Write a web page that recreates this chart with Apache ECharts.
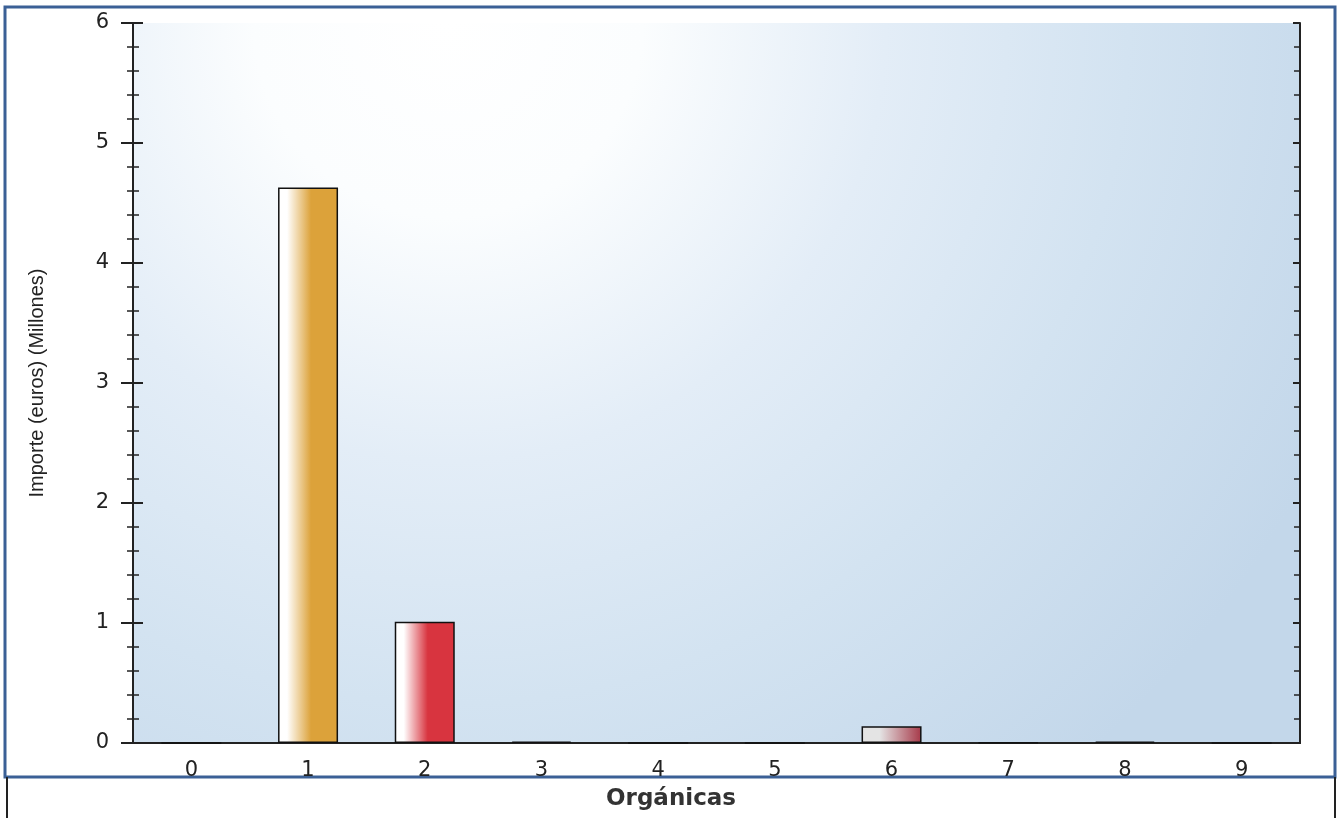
<!DOCTYPE html>
<html>
<head>
<meta charset="utf-8">
<script src="https://cdn.jsdelivr.net/npm/echarts@6/dist/echarts.min.js"></script>
<style>html,body{margin:0;padding:0;background:#fff;}#c{width:1342px;height:818px;}</style>
</head>
<body>
<div id="c"></div>
<script>
const categories = ['0','1','2','3','4','5','6','7','8','9'];
const values = [0, 4.63, 1.01, 0.012, 0, 0, 0.14, 0.004, 0.012, 0];
const barColors = ['#c8a040','#dca23a','#d8343f','#5a4a50','#888888','#888888','#a63848','#555555','#4a4a4a','#888888'];
const barStartColors = ['#ffffff','#ffffff','#ffffff','#dddddd','#ffffff','#ffffff','#e4e4e4','#dddddd','#dddddd','#ffffff'];
const yTicks = [0,1,2,3,4,5,6];
const yName = 'Importe (euros) (Millones)';
const xName = 'Orgánicas';

const chart = echarts.init(document.getElementById('c'));
const G = {left:133, right:42, top:23, bottom:75};
const lab = {fontFamily:'DejaVu Sans', fontSize:21, color:'#222'};

function grad(s, c, i){
  const stops = i === 6
    ? [{offset:0,color:s},{offset:0.3,color:s},{offset:1,color:c}]
    : [{offset:0,color:s},{offset:0.15,color:s},{offset:0.55,color:c},{offset:1,color:c}];
  return new echarts.graphic.LinearGradient(0,0,1,0,stops);
}

chart.setOption({
  animation:false,
  backgroundColor:'#ffffff',
  graphic:[
    {type:'rect', shape:{x:5,y:7,width:1330,height:770}, style:{fill:'none',stroke:'#3b6096',lineWidth:3}, z:-1},
    {type:'line', shape:{x1:7,y1:777,x2:7,y2:818}, style:{stroke:'#222',lineWidth:2}},
    {type:'line', shape:{x1:1335,y1:777,x2:1335,y2:818}, style:{stroke:'#222',lineWidth:2}},
    {type:'text', left:'center', top:788, style:{text:xName, font:'bold 23px "DejaVu Sans"', fill:'#333'}}
  ],
  grid:[
    Object.assign({show:true, borderWidth:0, backgroundColor:{type:'radial',x:0.27,y:0,r:1.35,colorStops:[
      {offset:0,color:'#ffffff'},{offset:0.2,color:'#fbfdfe'},{offset:0.45,color:'#e3edf7'},{offset:0.7,color:'#d3e3f1'},{offset:1,color:'#c3d7ea'}]}}, G),
    Object.assign({}, G)
  ],
  xAxis:[
    {type:'category', gridIndex:0, data:categories, position:'bottom',
     axisLine:{lineStyle:{color:'#222',width:2}},
     axisTick:{alignWithLabel:true, length:8, lineStyle:{color:'#222',width:2}},
     axisLabel:Object.assign({margin:17}, lab)},
    {type:'category', gridIndex:1, data:categories, position:'top',
     axisLine:{lineStyle:{color:'#222',width:2}},
     axisTick:{alignWithLabel:true, inside:true, length:8, lineStyle:{color:'#222',width:2}},
     axisLabel:{show:false}}
  ],
  yAxis:[
    {type:'value', gridIndex:0, min:0, max:6, interval:1, position:'left',
     name:yName, nameLocation:'middle', nameGap:86, nameRotate:90,
     nameTextStyle:{fontFamily:'Liberation Sans', fontSize:20, color:'#222'},
     axisLine:{show:true, lineStyle:{color:'#222',width:2}},
     axisTick:{show:true, length:12, lineStyle:{color:'#222',width:2}},
     minorTick:{show:true, splitNumber:5, length:6, lineStyle:{color:'#222',width:1.5}},
     splitLine:{show:false},
     axisLabel:Object.assign({margin:24, formatter:v=>yTicks.includes(v)?String(v):''}, lab)},
    {type:'value', gridIndex:1, min:0, max:6, interval:1, position:'left',
     axisLine:{show:false},
     axisTick:{show:true, inside:true, length:10, lineStyle:{color:'#222',width:2}},
     minorTick:{show:true, splitNumber:5, length:6, lineStyle:{color:'#222',width:1.5}},
     splitLine:{show:false}, axisLabel:{show:false}},
    {type:'value', gridIndex:1, min:0, max:6, interval:1, position:'right',
     axisLine:{show:true, lineStyle:{color:'#222',width:2}},
     axisTick:{show:true, inside:true, length:7, lineStyle:{color:'#222',width:2}},
     minorTick:{show:true, splitNumber:5, length:6, lineStyle:{color:'#222',width:1.5}},
     splitLine:{show:false}, axisLabel:{show:false}}
  ],
  series:[{
    type:'bar', xAxisIndex:0, yAxisIndex:0, barWidth:60,
    data: values.map((v,i)=>({value:v, itemStyle:{color:grad(barStartColors[i], barColors[i], i), borderColor:'#111', borderWidth:1.5}})),
    z:3
  }]
});
</script>
</body>
</html>
